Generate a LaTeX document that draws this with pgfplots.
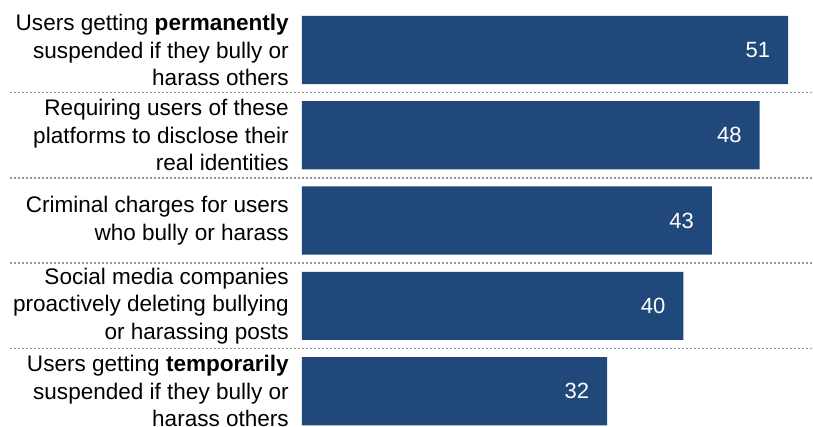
\documentclass[border=0pt]{standalone}
\usepackage{pgfplots}
\pgfplotsset{compat=1.18}
\usepackage{fontspec}
\setmainfont{Liberation Sans}
\definecolor{barblue}{RGB}{33,72,123}
\definecolor{dotgray}{RGB}{150,150,150}
\begin{document}
\begin{tikzpicture}
\begin{axis}[
  name=ax,
  scale only axis,
  width=383.25pt, height=320.25pt,
  xbar, bar width=0.8,
  xmin=0, xmax=53.6,
  ymin=-0.586, ymax=4.42,
  y dir=reverse,
  enlargelimits=false,
  hide x axis,
  axis y line*=left,
  y axis line style={draw=none},
  ytick={0,1,2,3,4},
  yticklabels={
    {Users getting \textbf{permanently}\\suspended if they bully or\\harass others},
    {Requiring users of these\\platforms to disclose their\\real identities},
    {Criminal charges for users\\who bully or harass},
    {Social media companies\\proactively deleting bullying\\or harassing posts},
    {Users getting \textbf{temporarily}\\suspended if they bully or\\harass others}},
  yticklabel style={align=right, inner sep=0pt, xshift=-9.75pt,
    font={\fontsize{16.9pt}{20.6pt}\selectfont}, text=black},
  major tick length=0pt,
  /pgf/number format/assume math mode=true,
  nodes near coords,
  every node near coord/.append style={anchor=east, xshift=-10pt, text=white,
    font={\fontsize{16.5pt}{18pt}\selectfont}},
  clip=false,
]
\addplot[fill=barblue, draw=none] coordinates {(51,0) (48,1) (43,2) (40,3) (32,4)};
\pgfplotsinvokeforeach{0.5,1.5,2.5,3.5}{
  \draw[dotgray, line width=1.1pt, dash pattern=on 1.1pt off 1.9pt] (axis cs:-30.6,#1) -- (axis cs:53.6,#1);
}
\end{axis}
\pgfresetboundingbox
\useasboundingbox ([xshift=-226.5pt]ax.south west) rectangle (ax.north east);
\end{tikzpicture}
\end{document}
